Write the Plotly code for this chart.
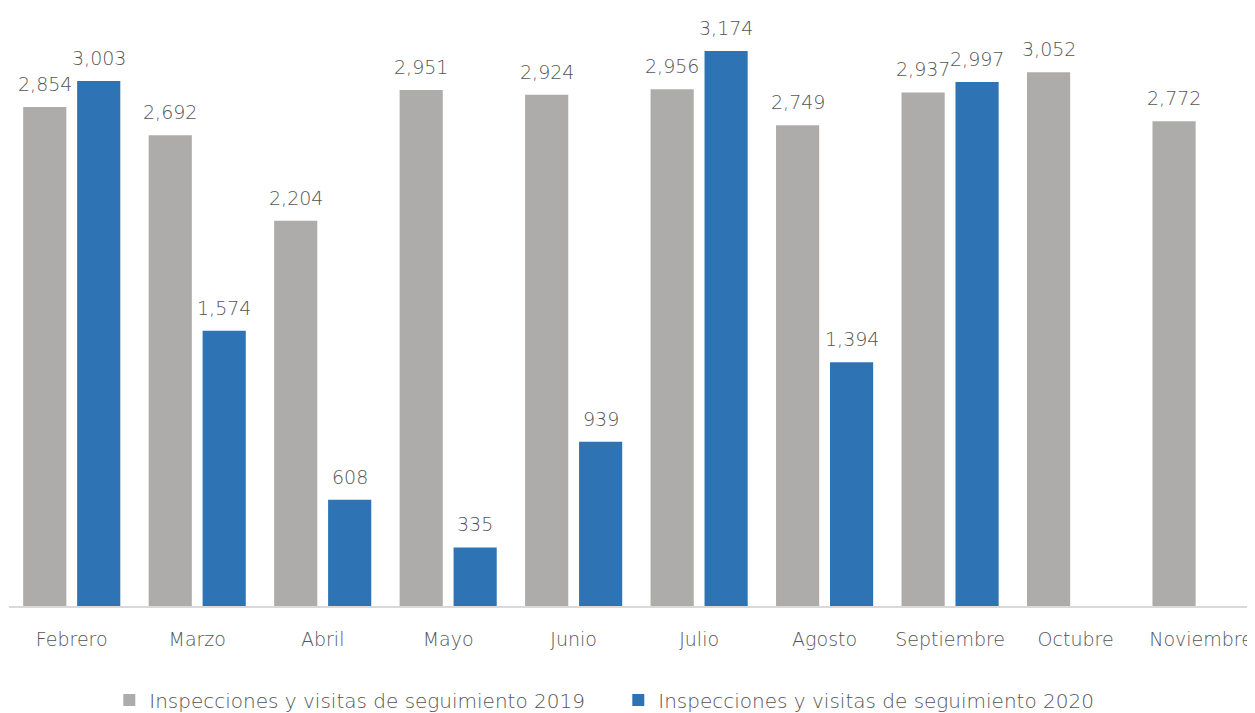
import plotly.graph_objects as go

months = ["Febrero", "Marzo", "Abril", "Mayo", "Junio", "Julio", "Agosto",
          "Septiembre", "Octubre", "Noviembre"]
vals_2019 = [2854, 2692, 2204, 2951, 2924, 2956, 2749, 2937, 3052, 2772]
vals_2020 = [3003, 1574, 608, 335, 939, 3174, 1394, 2997, None, None]
name_2019 = "Inspecciones y visitas de seguimiento 2019"
name_2020 = "Inspecciones y visitas de seguimiento 2020"

FONT = "DejaVu Sans"
TXT = "#555555"

fig = go.Figure()
for vals, name, color in [(vals_2019, name_2019, "#aeabab"),
                          (vals_2020, name_2020, "#2e74b5")]:
    fig.add_trace(go.Bar(x=months, y=vals, name=name,
                         marker=dict(color=color, line=dict(width=0)),
                         cliponaxis=False, hoverinfo="skip"))

# value labels above bars
for vals, shift in [(vals_2019, -27), (vals_2020, 27)]:
    for m, v in zip(months, vals):
        if v is None:
            continue
        fig.add_annotation(x=m, y=v, text=f"{v:,}", showarrow=False,
                           xshift=shift, yshift=23, yanchor="middle",
                           font=dict(family=FONT, size=19, color=TXT, weight=200))

fig.update_layout(
    width=1247, height=705,
    margin=dict(l=1, r=0, t=21, b=107, autoexpand=False),
    paper_bgcolor="white", plot_bgcolor="white",
    barmode="group", bargap=0.14, bargroupgap=0.2,
    font=dict(family=FONT, color=TXT, size=18, weight=200),
    showlegend=True,
    legend=dict(orientation="h", x=0.489, xanchor="center", y=-0.163, yanchor="middle",
                font=dict(family=FONT, size=20, color=TXT, weight=200), itemwidth=30,
                entrywidth=464, entrywidthmode="pixels",
                traceorder="normal"),
    xaxis=dict(range=[-0.5, 9.43], showline=True, linecolor="#d9d9d9", linewidth=1.5,
               ticks="", tickfont=dict(family=FONT, size=19, color=TXT, weight=200),
               ticklabelstandoff=15, automargin=False,
               showgrid=False, fixedrange=True),
    yaxis=dict(range=[0, 3300], visible=False, showgrid=False, fixedrange=True,
               automargin=False),
)
fig.write_html("out.html")
